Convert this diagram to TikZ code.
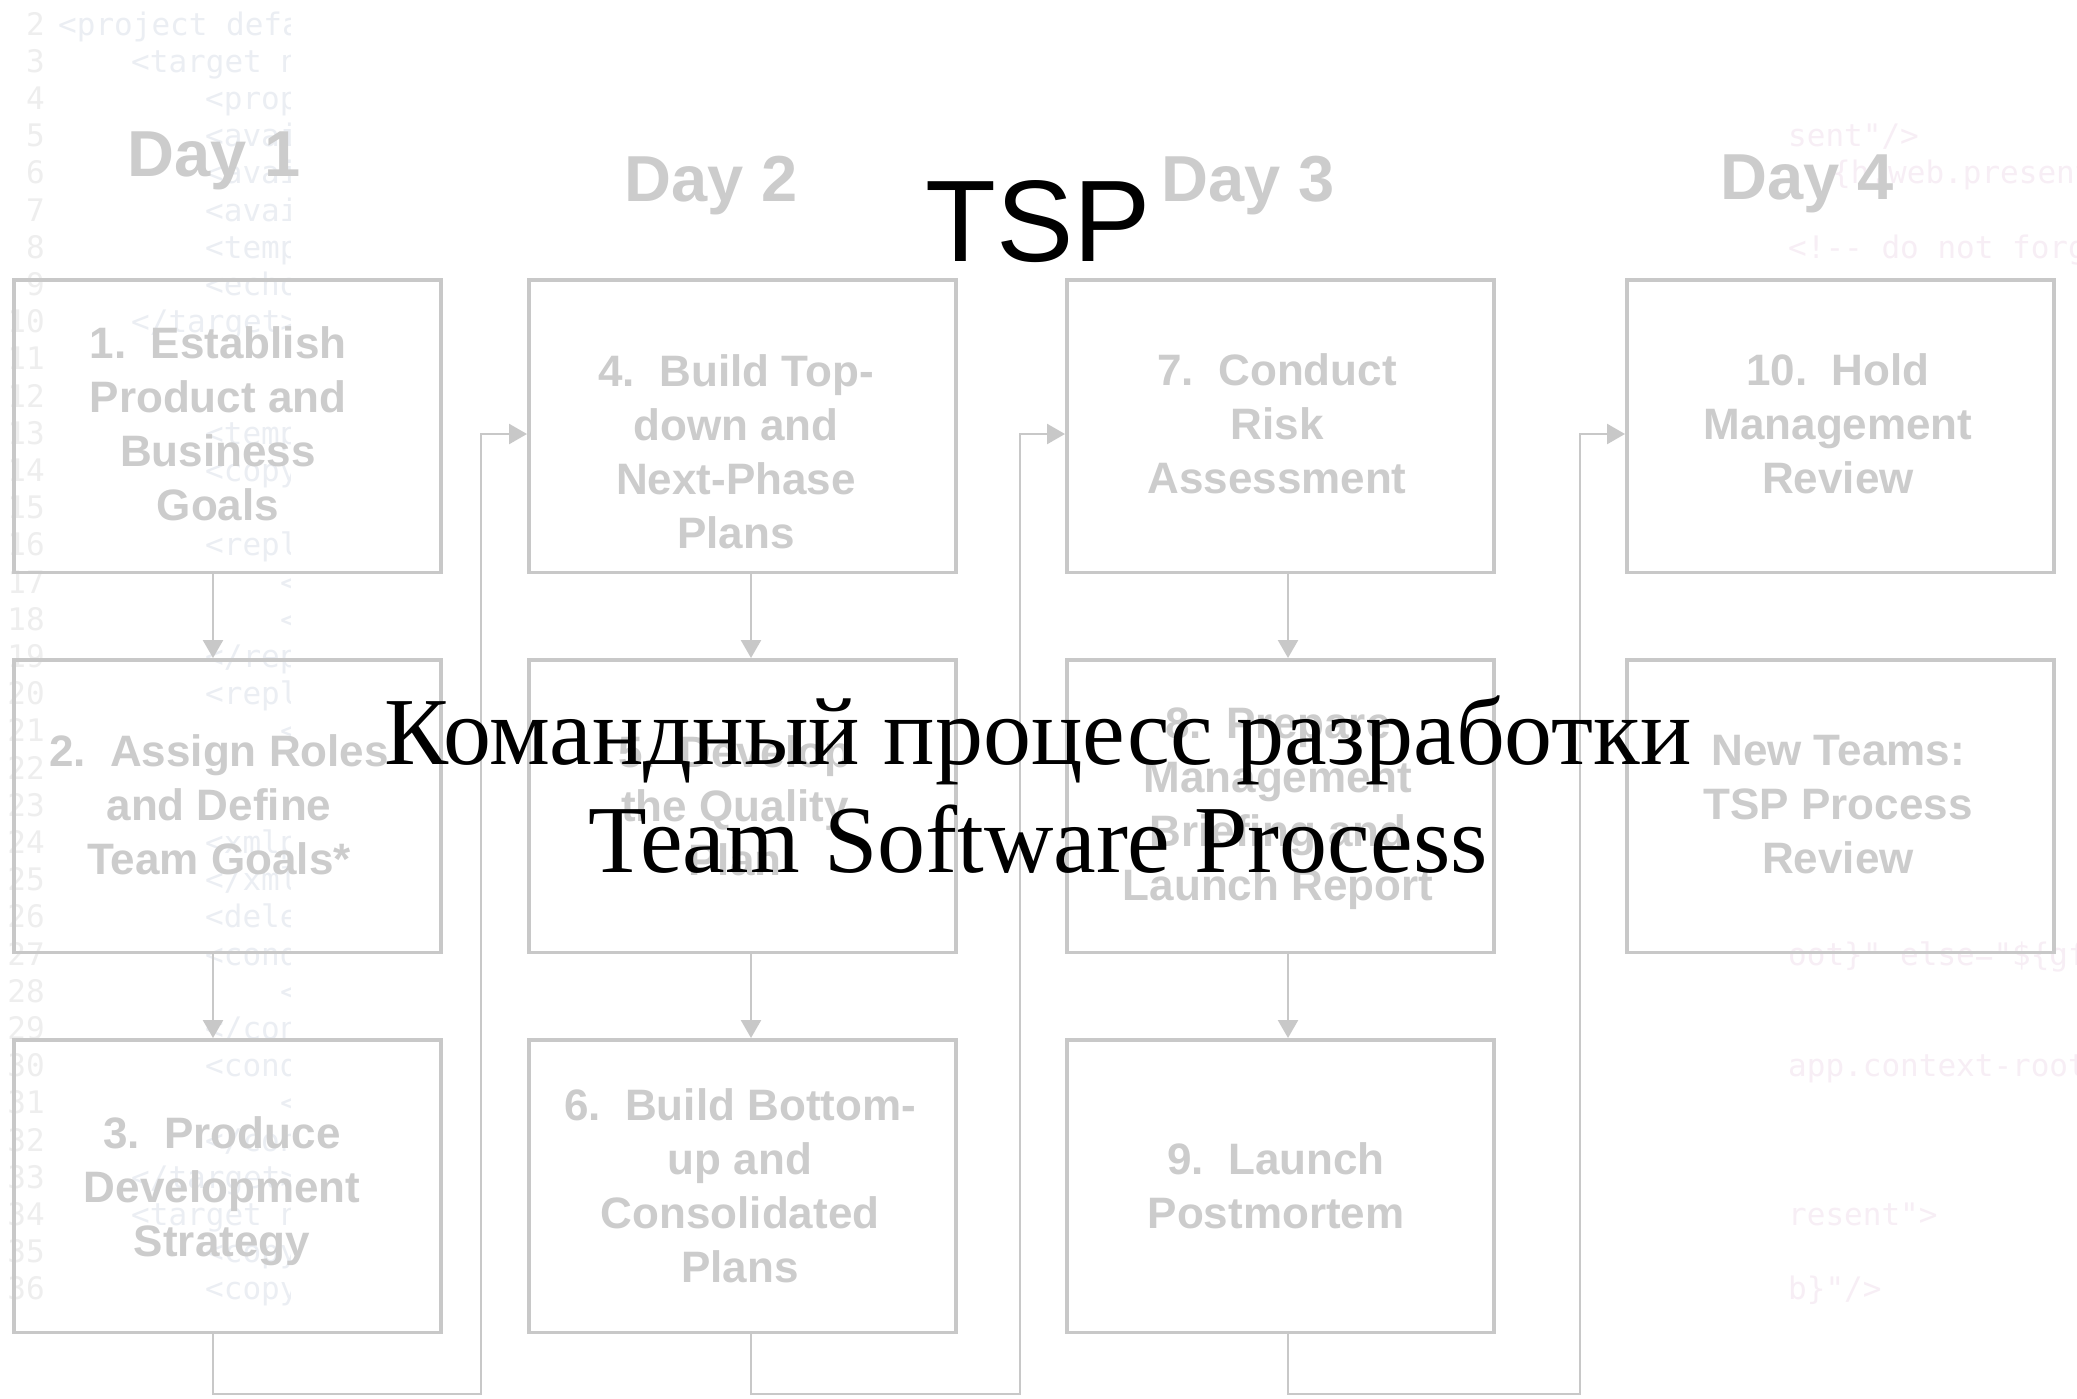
\documentclass[tikz,border=0pt]{standalone}
\usepackage{fontspec}
\setmainfont{Liberation Serif}
\newfontfamily\boxfont{Liberation Sans}
\newfontfamily\monofont{DejaVu Sans Mono}
\usetikzlibrary{arrows.meta}
\definecolor{boxgray}{RGB}{200,200,200}
\definecolor{txtgray}{RGB}{204,204,204}
\definecolor{numgray}{RGB}{238,238,238}
\definecolor{codeblue}{RGB}{235,238,243}
\definecolor{codepink}{RGB}{247,238,245}
\newcommand\codeln[4]{\node[codetext] (#1) at (#2,{35+(#3-2)*37.2}) {#4};}
\newcommand\codelr[4]{\node[codetextr] (#1) at (#2,{35+(#3-2)*37.2}) {#4};}
\begin{document}
\frenchspacing
\begin{tikzpicture}[x=1pt,y=-1pt,
  boxstyle/.style={draw=boxgray, line width=3.5pt, minimum width=427pt, minimum height=292.5pt, inner sep=0pt, anchor=north west},
  boxtext/.style={text=txtgray, font=\boxfont\bfseries\fontsize{44}{54}\selectfont, align=center, inner sep=0pt},
  daytext/.style={text=txtgray, font=\boxfont\bfseries\fontsize{65}{78}\selectfont, anchor=base, inner sep=0pt},
  conn/.style={draw=boxgray, line width=2.5pt},
  arr/.style={conn, -{Triangle[width=20pt,length=18pt]}},
  numtext/.style={text=numgray, font=\monofont\fontsize{31}{37}\selectfont, anchor=base east, inner sep=0pt},
  codetext/.style={text=codeblue, font=\monofont\fontsize{31}{37}\selectfont, anchor=base west, inner sep=0pt},
  codetextr/.style={text=codepink, font=\monofont\fontsize{31}{37}\selectfont, anchor=base west, inner sep=0pt}
]
\useasboundingbox (0,0) rectangle (2077,1398);
\fill[white] (0,0) rectangle (2077,1398);

% faint background code (left strip)
\begin{scope}
\clip (0,0) rectangle (290,1398);
\foreach \n in {2,...,36} {\node[numtext] (ln\n) at (45,{35+(\n-2)*37.2}) {\n};}
\codeln{c2}{58}{2}{<project default}
\codeln{c3}{131}{3}{<target name}
\codeln{c4}{205}{4}{<property}
\codeln{c5}{205}{5}{<available}
\codeln{c6}{205}{6}{<available}
\codeln{c7}{205}{7}{<available}
\codeln{c8}{205}{8}{<template}
\codeln{c9}{205}{9}{<echo}
\codeln{c10}{131}{10}{</target>}
\codeln{c13}{205}{13}{<template}
\codeln{c14}{205}{14}{<copy}
\codeln{c16}{205}{16}{<replace}
\codeln{c17}{280}{17}{<replacetoken}
\codeln{c18}{280}{18}{<replacevalue}
\codeln{c19}{205}{19}{</replace>}
\codeln{c20}{205}{20}{<replace}
\codeln{c21}{280}{21}{<replacetoken}
\codeln{c24}{205}{24}{<xmlproperty}
\codeln{c25}{205}{25}{</xmlproperty>}
\codeln{c26}{205}{26}{<delete}
\codeln{c27}{205}{27}{<condition}
\codeln{c28}{280}{28}{<equals}
\codeln{c29}{205}{29}{</condition>}
\codeln{c30}{205}{30}{<condition}
\codeln{c31}{280}{31}{<equals}
\codeln{c32}{205}{32}{</condition>}
\codeln{c33}{131}{33}{</target>}
\codeln{c34}{131}{34}{<target name}
\codeln{c35}{205}{35}{<copy}
\codeln{c36}{205}{36}{<copy}
\end{scope}
% faint background code (right strip)
\begin{scope}
\clip (1786,0) rectangle (2077,1398);
\codelr{r5}{1788}{5}{sent"/>}
\codelr{r6}{1832}{6}{\{h.web.present}
\codelr{r8}{1788}{8}{<!-{}- do not forget}
\codelr{r27}{1788}{27}{oot\}" else="\$\{gf}
\codelr{r30}{1788}{30}{app.context-root}
\codelr{r34}{1788}{34}{resent">}
\codelr{r36}{1788}{36}{b\}"/>}
\end{scope}

% day labels
\node[daytext] (d1) at (214,176) {Day 1};
\node[daytext] (d2) at (711,201) {Day 2};
\node[daytext] (d3) at (1248,201) {Day 3};
\node[daytext] (d4) at (1807,199) {Day 4};

% boxes
\node[boxstyle] (b1) at (12,278) {};
\node[boxstyle] (b2) at (12,658) {};
\node[boxstyle] (b3) at (12,1038) {};
\node[boxstyle] (b4) at (527,278) {};
\node[boxstyle] (b5) at (527,658) {};
\node[boxstyle] (b6) at (527,1038) {};
\node[boxstyle] (b7) at (1065,278) {};
\node[boxstyle] (b8) at (1065,658) {};
\node[boxstyle] (b9) at (1065,1038) {};
\node[boxstyle] (b10) at (1625,278) {};
\node[boxstyle] (b11) at (1625,658) {};

% box texts
\node[boxtext] (t1) at (218,424) {1.~~Establish\\Product and\\Business\\Goals};
\node[boxtext] (t2) at (219,805) {2.~~Assign Roles\\and Define\\Team Goals*};
\node[boxtext] (t3) at (222,1191) {3.~~Produce\\Development\\Strategy};
\node[boxtext] (t4) at (736,452) {4.~~Build Top-\\down and\\Next-Phase\\Plans};
\node[boxtext] (t5) at (735,806) {5.~~Develop\\the Quality\\Plan};
\node[boxtext] (t6) at (740,1186) {6.~~Build Bottom-\\up and\\Consolidated\\Plans};
\node[boxtext] (t7) at (1277,424) {7.~~Conduct\\Risk\\Assessment};
\node[boxtext] (t8) at (1278,809) {8.~~Prepare\\Management\\Briefing and\\Launch Report};
\node[boxtext] (t9) at (1276,1186) {9.~~Launch\\Postmortem};
\node[boxtext] (t10) at (1838,424) {10.~~Hold\\Management\\Review};
\node[boxtext] (t11) at (1838,805) {New Teams:\\TSP Process\\Review};

% connectors
\coordinate (x1) at (213,0);
\coordinate (x2) at (751,0);
\coordinate (x3) at (1288,0);
\coordinate (r1) at (481,1394);
\coordinate (r2) at (1020,1394);
\coordinate (r3) at (1580,1394);
\coordinate (e1) at (0,434);
\draw[arr] (b1.south -| x1) -- (b2.north -| x1);
\draw[arr] (b2.south -| x1) -- (b3.north -| x1);
\draw[arr] (b4.south -| x2) -- (b5.north -| x2);
\draw[arr] (b5.south -| x2) -- (b6.north -| x2);
\draw[arr] (b7.south -| x3) -- (b8.north -| x3);
\draw[arr] (b8.south -| x3) -- (b9.north -| x3);
\draw[arr] (b3.south -| x1) -- (x1 |- r1) -- (r1) -- (r1 |- e1) -- (b4.west |- e1);
\draw[arr] (b6.south -| x2) -- (x2 |- r2) -- (r2) -- (r2 |- e1) -- (b7.west |- e1);
\draw[arr] (b9.south -| x3) -- (x3 |- r3) -- (r3) -- (r3 |- e1) -- (b10.west |- e1);

% overlay titles
\node[anchor=base, inner sep=0pt, font=\boxfont\fontsize{116}{130}\selectfont] (title) at (1038,261) {TSP};
\node[anchor=base, inner sep=0pt, font=\fontsize{96}{110}\selectfont] (rus1) at (1038,764) {Командный процесс разработки};
\node[anchor=base, inner sep=0pt, font=\fontsize{96}{110}\selectfont] (rus2) at (1038,872) {Team Software Process};
\end{tikzpicture}
\end{document}
